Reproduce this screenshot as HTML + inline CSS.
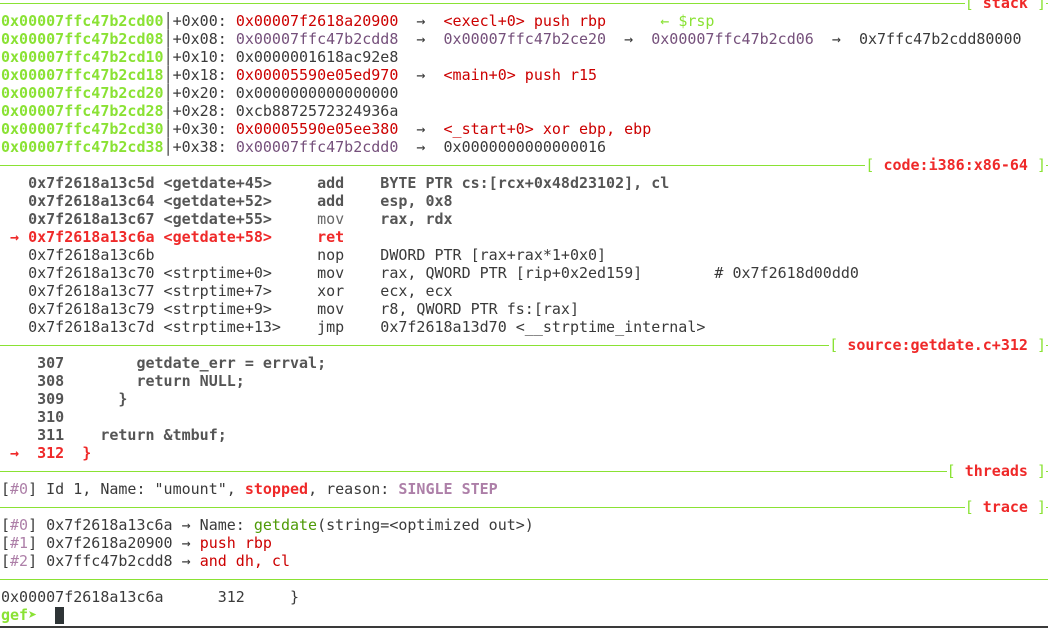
<!DOCTYPE html>
<html><head><meta charset="utf-8">
<style>
html,body{margin:0;padding:0;background:#fff;}
body{width:1048px;height:628px;position:relative;overflow:hidden;font-family:"DejaVu Sans Mono","Liberation Mono",monospace;font-size:15px;color:#3a3a3a;}
.r{position:absolute;left:1px;width:1047px;height:18px;line-height:18px;white-space:pre;}
.h{left:0;width:1048px;}
.h .ln{position:absolute;left:0;right:0;top:9px;height:1px;background:#8ae234;}
.h .lb{position:absolute;right:2px;top:0;background:#fff;font-weight:bold;}
.g{color:#8ae234}.gb{color:#8ae234;font-weight:bold}
.rd{color:#cc0000}.R{color:#ef2929;font-weight:bold}
.p{color:#75507b}.lp{color:#ad7fa8}.lpb{color:#ad7fa8;font-weight:bold}
.dg{color:#4e9a06}
.b{font-weight:bold;color:#555}
.m{color:#666}
.br{color:#8ae234;font-weight:normal}
</style></head><body>
<div class="r h" style="top:-6px"><div class="ln"></div><span class="lb"><span class="br">[</span> <span class="R">stack</span> <span class="br">]</span></span></div>
<div class="r" style="top:12px"><span class="gb">0x00007ffc47b2cd00</span>│+0x00: <span class="rd">0x00007f2618a20900</span>  →  <span class="rd">&lt;execl+0&gt; push rbp</span>      <span class="g">← $rsp</span></div>
<div class="r" style="top:30px"><span class="gb">0x00007ffc47b2cd08</span>│+0x08: <span class="p">0x00007ffc47b2cdd8</span>  →  <span class="p">0x00007ffc47b2ce20</span>  →  <span class="p">0x00007ffc47b2cd06</span>  →  0x7ffc47b2cdd80000</div>
<div class="r" style="top:48px"><span class="gb">0x00007ffc47b2cd10</span>│+0x10: 0x0000001618ac92e8</div>
<div class="r" style="top:66px"><span class="gb">0x00007ffc47b2cd18</span>│+0x18: <span class="rd">0x00005590e05ed970</span>  →  <span class="rd">&lt;main+0&gt; push r15</span></div>
<div class="r" style="top:84px"><span class="gb">0x00007ffc47b2cd20</span>│+0x20: 0x0000000000000000</div>
<div class="r" style="top:102px"><span class="gb">0x00007ffc47b2cd28</span>│+0x28: 0xcb8872572324936a</div>
<div class="r" style="top:120px"><span class="gb">0x00007ffc47b2cd30</span>│+0x30: <span class="rd">0x00005590e05ee380</span>  →  <span class="rd">&lt;_start+0&gt; xor ebp, ebp</span></div>
<div class="r" style="top:138px"><span class="gb">0x00007ffc47b2cd38</span>│+0x38: <span class="p">0x00007ffc47b2cdd0</span>  →  0x0000000000000016</div>
<div class="r h" style="top:156px"><div class="ln"></div><span class="lb"><span class="br">[</span> <span class="R">code:i386:x86-64</span> <span class="br">]</span></span></div>
<div class="r b" style="top:174px">   0x7f2618a13c5d &lt;getdate+45&gt;     add    BYTE PTR cs:[rcx+0x48d23102], cl</div>
<div class="r b" style="top:192px">   0x7f2618a13c64 &lt;getdate+52&gt;     add    esp, 0x8</div>
<div class="r b" style="top:210px">   0x7f2618a13c67 &lt;getdate+55&gt;     <span class="m" style="font-weight:normal">mov</span>    rax, rdx</div>
<div class="r R" style="top:228px"> → 0x7f2618a13c6a &lt;getdate+58&gt;     ret</div>
<div class="r" style="top:246px">   0x7f2618a13c6b                  nop    DWORD PTR [rax+rax*1+0x0]</div>
<div class="r" style="top:264px">   0x7f2618a13c70 &lt;strptime+0&gt;     mov    rax, QWORD PTR [rip+0x2ed159]        # 0x7f2618d00dd0</div>
<div class="r" style="top:282px">   0x7f2618a13c77 &lt;strptime+7&gt;     xor    ecx, ecx</div>
<div class="r" style="top:300px">   0x7f2618a13c79 &lt;strptime+9&gt;     mov    r8, QWORD PTR fs:[rax]</div>
<div class="r" style="top:318px">   0x7f2618a13c7d &lt;strptime+13&gt;    jmp    0x7f2618a13d70 &lt;__strptime_internal&gt;</div>
<div class="r h" style="top:336px"><div class="ln"></div><span class="lb"><span class="br">[</span> <span class="R">source:getdate.c+312</span> <span class="br">]</span></span></div>
<div class="r b" style="top:354px">    307        getdate_err = errval;</div>
<div class="r b" style="top:372px">    308        return NULL;</div>
<div class="r b" style="top:390px">    309      }</div>
<div class="r b" style="top:408px">    310</div>
<div class="r b" style="top:426px">    311    return &amp;tmbuf;</div>
<div class="r R" style="top:444px"> →  312  }</div>
<div class="r h" style="top:462px"><div class="ln"></div><span class="lb"><span class="br">[</span> <span class="R">threads</span> <span class="br">]</span></span></div>
<div class="r" style="top:480px">[<span class="lp">#0</span>] Id 1, Name: "umount", <span class="R">stopped</span>, reason: <span class="lpb">SINGLE STEP</span></div>
<div class="r h" style="top:498px"><div class="ln"></div><span class="lb"><span class="br">[</span> <span class="R">trace</span> <span class="br">]</span></span></div>
<div class="r" style="top:516px">[<span class="lp">#0</span>] 0x7f2618a13c6a → Name: <span class="dg">getdate</span>(string=&lt;optimized out&gt;)</div>
<div class="r" style="top:534px">[<span class="lp">#1</span>] 0x7f2618a20900 → <span class="rd">push rbp</span></div>
<div class="r" style="top:552px">[<span class="lp">#2</span>] 0x7ffc47b2cdd8 → <span class="rd">and dh, cl</span></div>
<div class="r h" style="top:570px"><div class="ln"></div></div>
<div class="r" style="top:588px">0x00007f2618a13c6a      312     }</div>
<div class="r" style="top:606px"><span class="gb">gef➤</span>  </div>
<div style="position:absolute;left:55px;top:607px;width:9px;height:17px;background:#2e3436"></div>
<div style="position:absolute;left:0;top:626px;width:1048px;height:2px;background:#3a3a3a"></div>
</body></html>
